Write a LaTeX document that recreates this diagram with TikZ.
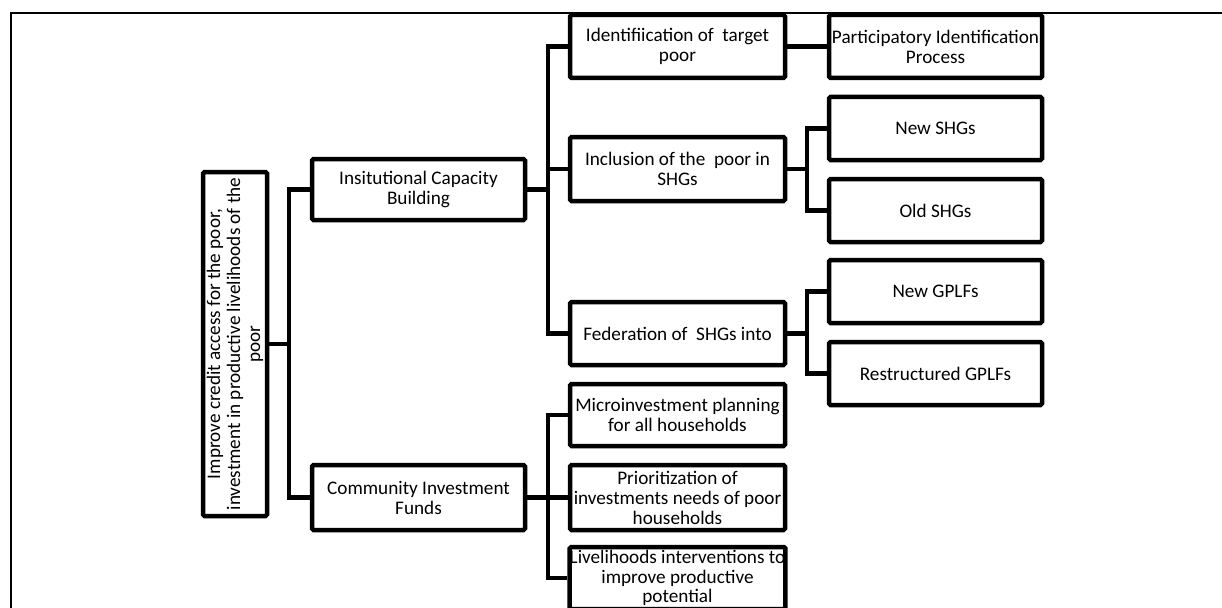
\documentclass[tikz,border=0pt]{standalone}
\usepackage{fontspec}
\setmainfont{Carlito}
\begin{document}
\begin{tikzpicture}[x=1pt,y=-1pt,
  box/.style={draw=black,line width=4.5pt,rounded corners=1.5pt,align=center,inner sep=0pt,
    font=\fontsize{19.2}{20}\selectfont,minimum height=63pt},
  lvtwo/.style={box,minimum width=215pt},
  lvthree/.style={box,minimum width=213pt},
  lvone/.style={box,minimum width=213pt},
  conn/.style={line width=4.5pt,line join=miter},
  frame/.style={line width=2.2pt}]
\useasboundingbox (0,0) rectangle (1222,607);
\draw[frame] (11,608) -- (11,13) -- (1223,13);

% root
\node[box,rotate=90,minimum width=344pt,minimum height=64pt] (root) at (235,344)
  {Improve credit access for the poor,\\investment in productive livelihoods of the\\poor};

% level 1
\node[lvone,minimum height=61pt] (icb) at (418.5,189.5) {Insitutional Capacity\\Building};
\node[lvone,minimum height=65pt] (cif) at (418.5,497.5) {Community Investment\\Funds};

% level 2
\node[lvtwo] (ident) at (677.5,46.5) {Identifiication of\ \ target\\poor};
\node[lvtwo,minimum height=64pt] (incl) at (677.5,169) {Inclusion of the\ \ poor in\\SHGs};
\node[lvtwo] (fed) at (677.5,333.5) {Federation of\ \ SHGs into};
\node[lvtwo,minimum height=62pt] (micro) at (677.5,415) {Microinvestment planning\\for all households};
\node[lvtwo,minimum height=65pt] (prior) at (677.5,497.5) {Prioritization of\\investments needs of poor\\households};
\node[lvtwo,minimum height=62pt,font=\fontsize{19.2}{19.3}\selectfont] (live) at (677.5,578) {Livelihoods interventions to\\improve productive\\potential};

% level 3
\node[lvthree] (part) at (935.5,46.5) {Participatory Identification\\Process};
\node[lvthree] (newshg) at (935.5,128.5) {New SHGs};
\node[lvthree] (oldshg) at (935.5,210.5) {Old SHGs};
\node[lvthree] (newgp) at (935.5,291.5) {New GPLFs};
\node[lvthree] (restr) at (935.5,373.5) {Restructured GPLFs};

% connectors
\coordinate (t0) at (289,344);
\draw[conn] (root.south) -- (t0);
\draw[conn] (icb.west) -- ++(-21,0) |- (cif.west);

\coordinate (a0) at (548,189.5);
\draw[conn] (icb.east) -- (a0);
\draw[conn] (ident.west) -- ++(-20,0) |- (fed.west);
\draw[conn] (incl.west) -- ++(-20,0);

\draw[conn] (cif.east) -- (prior.west);
\draw[conn] (micro.west) -- ++(-20,0) |- (live.west);

\draw[conn] (ident.east) -- (part.west);

\draw[conn] (incl.east) -- ++(20,0);
\draw[conn] (newshg.west) -- ++(-20,0) |- (oldshg.west);

\draw[conn] (fed.east) -- ++(20,0);
\draw[conn] (newgp.west) -- ++(-20,0) |- (restr.west);
\end{tikzpicture}
\end{document}
